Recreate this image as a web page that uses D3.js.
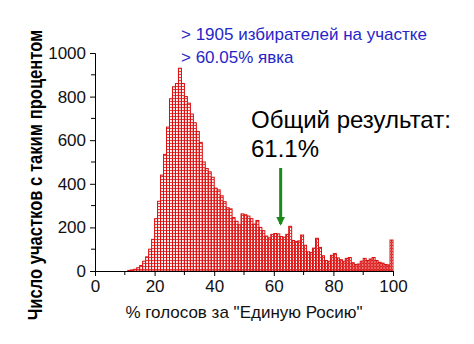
<!DOCTYPE html>
<html>
<head>
<meta charset="utf-8">
<script src="https://cdnjs.cloudflare.com/ajax/libs/d3/7.8.5/d3.min.js"></script>
<style>
	body { margin: 0; background: #fff; }
	svg { display: block; }
	text { font-family: Arial, "Liberation Sans", sans-serif; }
</style>
</head>
<body>
<div id="svg-container"></div>
<script>

// DATA
// histogram bins: number of precincts for each 1% of the vote (bin = lower edge %)
const binEdges = d3.range(0, 100);
const counts = [
	0, 0, 0, 0, 0, 0, 0, 0, 0, 0,
	0, 3, 5, 8, 15, 25, 45, 65, 100, 145,
	240, 320, 440, 535, 660, 790, 845, 860, 930, 860,
	800, 770, 720, 680, 640, 590, 500, 470, 455, 430,
	380, 372, 345, 318, 290, 285, 245, 228, 212, 262,
	258, 252, 240, 215, 232, 200, 185, 160, 152, 168,
	172, 170, 158, 155, 168, 205, 140, 135, 138, 165,
	118, 88, 85, 105, 150, 108, 70, 48, 45, 72,
	80, 60, 52, 45, 58, 62, 38, 30, 32, 45,
	58, 48, 55, 62, 48, 40, 36, 30, 28, 142
];
const xTicks = [0, 20, 40, 60, 80, 100];
const yTicks = [0, 200, 400, 600, 800, 1000];
const xMinorTicks = [10, 30, 50, 70, 90];
const yMinorTicks = [100, 300, 500, 700, 900];
const infoLines = ["> 1905 избирателей на участке", "> 60.05% явка"];
const resultLines = ["Общий результат:", "61.1%"];
const resultValue = 62.3;   // where the arrow points
const xTitle = "% голосов за \"Единую Росию\"";
const yTitle = "Число участков с таким процентом";


// CHART
function drawChart(w = 474, h = 344) {
	const svg = d3.select('#svg-container').append('svg')
		.attr("width", w)
		.attr("height", h);

	// scales
	const xScale = d3.scaleLinear().domain([0, 100]).range([95, 393]);
	const yScale = d3.scaleLinear().domain([0, 1000]).range([271, 53]);

	// hatch pattern for the bars
	const defs = svg.append("defs");
	const pat = defs.append("pattern")
		.attr("id", "hatch")
		.attr("patternUnits", "userSpaceOnUse")
		.attr("width", 3)
		.attr("height", 3);
	pat.append("rect").attr("width", 3).attr("height", 3).attr("fill", "#fff4f4");
	pat.append("rect").attr("x", 1).attr("y", 0).attr("width", 1).attr("height", 2).attr("fill", "#e32222");
	pat.append("rect").attr("x", 0).attr("y", 2).attr("width", 3).attr("height", 1).attr("fill", "#e84040");

	// arrowhead
	defs.append("marker")
		.attr("id", "arrow")
		.attr("viewBox", "0 0 10 10")
		.attr("refX", 8).attr("refY", 5)
		.attr("markerWidth", 3).attr("markerHeight", 3)
		.attr("orient", "auto")
		.append("path")
		.attr("d", "M0,0 L10,5 L0,10 Z")
		.attr("fill", "#1a8a1a");

	// bars
	const data = binEdges.map((b, i) => ({ b: b, v: counts[i] })).filter(d => d.v > 0);
	svg.append("g").selectAll("rect")
		.data(data)
		.enter()
		.append("rect")
		.attr("x", d => xScale(d.b))
		.attr("y", d => yScale(d.v))
		.attr("width", d => xScale(d.b + 1) - xScale(d.b))
		.attr("height", d => yScale(0) - yScale(d.v))
		.attr("fill", "url(#hatch)")
		.attr("stroke", "#d80f0f")
		.attr("stroke-width", 1);

	// axes
	const xAxis = d3.axisBottom(xScale).tickValues(xTicks).tickFormat(d3.format("d"))
		.tickSizeOuter(0).tickSize(5).tickPadding(4);
	const gx = svg.append("g")
		.attr("transform", `translate(0, ${yScale(0)})`)
		.call(xAxis);
	gx.selectAll("text").attr("font-size", 17).attr("fill", "#111").attr("font-family", null);
	gx.append("g").selectAll("line")
		.data(xMinorTicks).enter().append("line")
		.attr("x1", d => xScale(d)).attr("x2", d => xScale(d))
		.attr("y1", 0).attr("y2", 4)
		.attr("stroke", "#000");

	const yAxis = d3.axisLeft(yScale).tickValues(yTicks).tickFormat(d3.format("d"))
		.tickSizeOuter(0).tickSize(5).tickPadding(4);
	const gy = svg.append("g")
		.attr("transform", `translate(${xScale(0)}, 0)`)
		.call(yAxis);
	gy.selectAll("text").attr("font-size", 17).attr("fill", "#111").attr("font-family", null);
	gy.append("g").selectAll("line")
		.data(yMinorTicks).enter().append("line")
		.attr("x1", 0).attr("x2", -4)
		.attr("y1", d => yScale(d)).attr("y2", d => yScale(d))
		.attr("stroke", "#000");

	// axis titles
	svg.append("text")
		.attr("x", (xScale(0) + xScale(100)) / 2)
		.attr("y", 318)
		.attr("text-anchor", "middle")
		.attr("font-size", 17)
		.attr("fill", "#111")
		.text(xTitle);
	svg.append("text")
		.attr("transform", "translate(42, 175) rotate(-90) scale(0.79, 1)")
		.attr("text-anchor", "middle")
		.attr("font-size", 21)
		.attr("font-weight", "bold")
		.attr("fill", "#000")
		.text(yTitle);

	// annotations
	svg.append("g").selectAll("text")
		.data(infoLines).enter().append("text")
		.attr("x", 181)
		.attr("y", (d, i) => 40 + i * 23)
		.attr("font-size", 17)
		.attr("fill", "#2626c8")
		.text(d => d);
	svg.append("g").selectAll("text")
		.data(resultLines).enter().append("text")
		.attr("x", 251)
		.attr("y", (d, i) => 128 + i * 29)
		.attr("font-size", 24)
		.attr("fill", "#000")
		.text(d => d);
	svg.append("line")
		.attr("x1", xScale(resultValue)).attr("x2", xScale(resultValue))
		.attr("y1", 168).attr("y2", 224)
		.attr("stroke", "#1a8a1a")
		.attr("stroke-width", 3)
		.attr("marker-end", "url(#arrow)");
}

document.addEventListener('DOMContentLoaded', () => {
	drawChart();
});
</script>
</body>
</html>
